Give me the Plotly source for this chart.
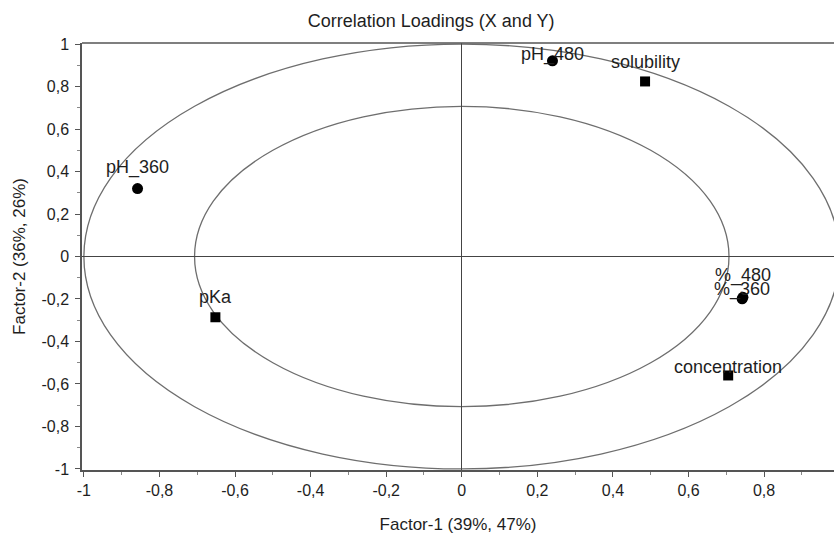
import plotly.graph_objects as go

# Data
x_names = ["pH_360", "pH_480", "%_480", "%_360"]
x_f1 = [-0.858, 0.240, 0.744, 0.742]
x_f2 = [0.320, 0.921, -0.192, -0.199]

y_names = ["solubility", "pKa", "concentration"]
y_f1 = [0.485, -0.652, 0.705]
y_f2 = [0.824, -0.286, -0.560]

tick_vals = [-1, -0.8, -0.6, -0.4, -0.2, 0, 0.2, 0.4, 0.6, 0.8, 1]
tick_text = ["-1", "-0,8", "-0,6", "-0,4", "-0,2", "0", "0,2", "0,4", "0,6", "0,8", "1"]
minor_vals = [-0.9, -0.7, -0.5, -0.3, -0.1, 0.1, 0.3, 0.5, 0.7, 0.9]
circle_radii = [1.0, 0.7071]

FONT = "Liberation Sans, Arial, sans-serif"
AX = "#555555"
TXT = "#1e1e1e"

# label placement (pixel offset of label centre above its marker), styling only
label_offset = {"pH_360": 21, "pH_480": 6, "%_480": 22, "%_360": 9,
                "solubility": 19, "pKa": 20, "concentration": 8}

fig = go.Figure()

for r in circle_radii:
    fig.add_shape(type="circle", xref="x", yref="y", x0=-r, x1=r, y0=-r, y1=r,
                  line=dict(color="#6e6e6e", width=1.3), layer="below")

fig.add_trace(go.Scatter(
    x=x_f1, y=x_f2, mode="markers",
    marker=dict(symbol="circle", size=11, color="black"),
    cliponaxis=False, showlegend=False))
fig.add_trace(go.Scatter(
    x=y_f1, y=y_f2, mode="markers",
    marker=dict(symbol="square", size=10, color="black"),
    cliponaxis=False, showlegend=False))

for names, xs, ys in ((x_names, x_f1, x_f2), (y_names, y_f1, y_f2)):
    for n, xv, yv in zip(names, xs, ys):
        fig.add_annotation(x=xv, y=yv, xref="x", yref="y", text=n, showarrow=False,
                           xanchor="center", yanchor="middle",
                           yshift=label_offset.get(n, 15),
                           font=dict(family=FONT, size=18, color=TXT))

# top frame line
fig.add_shape(type="line", xref="paper", yref="paper", x0=0, x1=1, y0=1, y1=1,
              line=dict(color=AX, width=1.5))

axis_common = dict(
    tickmode="array", tickvals=tick_vals, ticktext=tick_text,
    ticks="outside", ticklen=5, tickwidth=1, tickcolor=AX,
    minor=dict(tickmode="array", tickvals=minor_vals, ticks="outside", ticklen=3, tickcolor="#888888"),
    showline=True, linecolor=AX, linewidth=1.5, mirror=False,
    showgrid=False, zeroline=True, zerolinecolor="#444444", zerolinewidth=1,
    tickfont=dict(family=FONT, size=16, color=TXT),
)

fig.update_xaxes(range=[-1.005, 0.985],
                 title=dict(text="Factor-1 (39%, 47%)", font=dict(family=FONT, size=17, color=TXT), standoff=20),
                 **axis_common)
fig.update_yaxes(range=[-1.005, 1.005], ticklabelstandoff=3,
                 title=dict(text="Factor-2 (36%, 26%)", font=dict(family=FONT, size=17, color=TXT), standoff=12),
                 **axis_common)

fig.update_layout(
    width=834, height=534,
    margin=dict(l=82, r=0, t=43, b=64),
    plot_bgcolor="white", paper_bgcolor="white",
    title=dict(text="Correlation Loadings (X and Y)", x=0.517, xref="container", xanchor="center",
               y=0.962, yanchor="middle",
               font=dict(family=FONT, size=18, color=TXT)),
    font=dict(family=FONT),
)

fig.write_html("out.html")
